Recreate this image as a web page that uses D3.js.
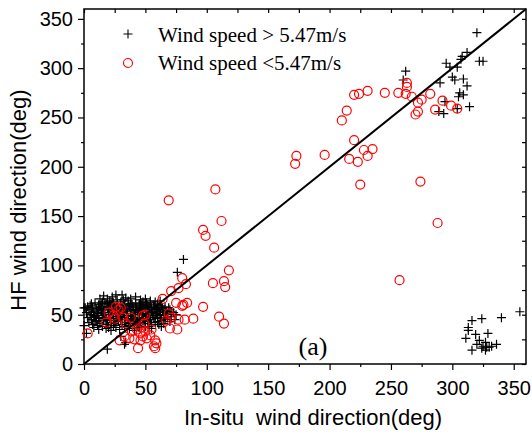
<!DOCTYPE html>
<html>
<head>
<meta charset="utf-8">
<script src="https://cdn.jsdelivr.net/npm/d3@7"></script>
<style>
  body { margin: 0; background: #fff; }
  svg { display: block; }
</style>
</head>
<body>
<div id="chart-area"></div>
<script>
/* Data: [in-situ direction, HF direction] in degrees */

// Wind speed > 5.47 m/s (black plus)
var highWind = [
  // dense cluster near 0-75 deg
  [16,69],[19,66],[23,68],[27,65],[31,70],[34,67],[38,66],[42,68],[46,65],[50,66],[54,64],[58,63],[62,64],[26,70],[13,66],
  [3,58],[6,61],[9,62],[12,60],[15,63],[18,61],[21,64],[24,62],[27,60],[30,63],[33,61],[36,64],[39,60],[42,62],[45,61],
  [48,63],[51,60],[54,62],[57,60],[60,61],[63,59],[66,58],[69,57],
  [1,57],[4,55],[7,57],[10,56],[13,58],[16,55],[19,57],[22,56],[25,58],[28,55],[31,57],[34,56],[37,58],[40,55],[43,57],
  [46,56],[49,58],[52,55],[55,57],[58,56],[61,55],[64,54],[67,53],[70,55],[73,52],
  [2,52],[5,50],[8,53],[11,51],[14,54],[17,50],[20,52],[23,51],[26,53],[29,50],[32,52],[35,51],[38,54],[41,50],[44,52],
  [47,51],[50,53],[53,50],[56,52],[59,51],[62,50],[65,49],[68,51],[71,48],[75,50],
  [3,47],[6,45],[9,48],[12,46],[15,49],[18,45],[21,47],[24,46],[27,48],[30,45],[33,47],[36,46],[39,48],[42,45],[45,47],
  [48,46],[51,48],[54,45],[57,47],[60,46],[63,44],[66,45],[70,43],[74,45],
  [4,42],[7,40],[10,43],[13,41],[16,44],[19,40],[22,42],[25,41],[28,43],[31,40],[34,42],[37,41],[40,43],[43,40],[46,42],
  [49,41],[52,43],[55,40],[58,42],[61,40],[65,41],
  [8,37],[12,35],[15,38],[18,36],[22,34],[26,37],[29,35],[33,38],[37,36],[41,34],[45,37],[50,38],[55,36],[63,38],
  [20,58],[25,54],[30,57],[35,53],[40,58],[45,54],[50,57],[55,53],[15,52],[10,47],[28,50],[38,49],[48,50],[58,49],
  [12,56],[22,60],[32,59],[42,59],[52,59],[62,57],[18,44],[28,46],[38,44],[48,44],
  [5,59],[8,49],[11,54],[14,61],[17,47],[20,55],[23,63],[26,44],[29,52],[32,65],[35,49],[38,61],[41,46],[44,55],
  [47,60],[50,44],[53,57],[56,49],[59,55],[62,47],[65,52],[68,47],[71,53],[6,52],[9,44],[14,57],[17,62],[21,50],
  [24,59],[27,53],[30,48],[33,55],[36,60],[39,51],[42,55],[45,50],[48,55],[51,62],[54,47],[57,58],[60,53],[64,57],
  [67,50],[36,39],[24,39],[44,39],[53,38],[60,43],[11,39],[20,37],
  [30,28],[33,20],[34,22],[19,15],[2,31],[0,57],[0,39],
  [81,106],[76,93],
  // upper right group
  [320,336],[312,316],[308,312],[307,309],[322,307],[325,307],[295,305],[298,301],[304,301],[262,297],[260,288],
  [300,291],[302,288],[309,289],[290,285],[312,282],[306,275],[309,273],[305,271],[294,266],[314,261],[304,259],
  [289,256],[293,254],
  // lower right group
  [355,53],[340,47],[324,46],[316,44],[313,37],[313,34],[319,30],[329,31],[311,26],[322,24],[327,22],[316,14],
  [324,16],[328,17],[330,17],[336,20],[325,18],[327,14],[320,20],[332,18]
];

// Wind speed < 5.47 m/s (red circle)
var lowWind = [
  [3,31],[18,42],[26,58],[30,57],[28,55],[20,52],[24,49],[32,47],[38,47],[48,49],[50,50],[34,41],[25,46],[46,37],[49,41],
  [39,33],[43,35],[46,31],[50,33],[54,29],[37,26],[41,25],[46,24],[51,26],[58,24],[29,24],[33,28],[44,16],[58,16],
  [59,21],[55,35],[48,28],[57,18],
  [69,51],[71,47],[80,59],[84,62],[97,58],[110,48],[114,41],[77,45],[82,45],[89,46],[70,36],[76,35],[67,44],
  [64,66],[71,74],[77,77],[80,87],[83,81],[81,60],[75,62],
  [69,166],[107,177],[112,145],[97,136],[99,130],[106,118],[118,95],[105,82],[114,84],[115,78],
  [172,203],[173,211],[196,212],[216,208],[223,205],[220,227],[228,217],[231,211],[235,218],[225,182],[274,185],
  [210,247],[214,257],[220,273],[224,274],[231,277],[245,275],[256,275],[263,285],[263,281],[262,274],[267,271],
  [272,265],[275,268],[270,253],[272,256],[282,274],[292,267],[299,262],[286,258],[304,259],[288,143],[257,85]
];

var xTicks = [0, 50, 100, 150, 200, 250, 300, 350];
var yTicks = [0, 50, 100, 150, 200, 250, 300, 350];
var minorTicks = [25, 75, 125, 175, 225, 275, 325];

var legendLabels = ["Wind speed > 5.47m/s", "Wind speed <5.47m/s"];

/* Layout */
var margin = { top: 9, right: 6, bottom: 68, left: 84 };
var width = 532 - margin.left - margin.right;
var height = 432 - margin.top - margin.bottom;

var svg = d3.select("#chart-area").append("svg")
  .attr("width", 532)
  .attr("height", 432);

var g = svg.append("g")
  .attr("transform", "translate(" + margin.left + "," + margin.top + ")");

/* Scales */
var x = d3.scaleLinear().domain([0, 360]).range([0, width]);
var y = d3.scaleLinear().domain([0, 360]).range([height, 0]);

/* Axes */
var sansFont = "'Liberation Sans', Arial, sans-serif";
var serifFont = "'Liberation Serif', 'Times New Roman', serif";

function styleAxis(sel) {
  sel.select(".domain").remove();
  sel.selectAll(".tick line").attr("stroke", "#000").attr("stroke-width", 1.2);
  sel.selectAll("text").attr("font-family", sansFont).attr("font-size", "20px").attr("fill", "#000");
}

g.append("g")
  .attr("transform", "translate(0," + height + ")")
  .call(d3.axisBottom(x).tickValues(xTicks).tickSize(6).tickPadding(11))
  .call(styleAxis);
g.append("g")
  .attr("transform", "translate(0," + height + ")")
  .call(d3.axisBottom(x).tickValues(minorTicks).tickSize(3).tickFormat(""))
  .call(styleAxis);

g.append("g")
  .call(d3.axisLeft(y).tickValues(yTicks).tickSize(6).tickPadding(5))
  .call(styleAxis);
g.append("g")
  .call(d3.axisLeft(y).tickValues(minorTicks).tickSize(3).tickFormat(""))
  .call(styleAxis);

// inward ticks on top and right
g.append("g")
  .call(d3.axisBottom(x).tickValues(xTicks.concat(minorTicks)).tickSize(4).tickFormat(""))
  .call(styleAxis);
g.append("g")
  .attr("transform", "translate(" + width + ",0)")
  .call(d3.axisLeft(y).tickValues(yTicks.concat(minorTicks)).tickSize(4).tickFormat(""))
  .call(styleAxis);

// frame
g.append("rect")
  .attr("width", width)
  .attr("height", height)
  .attr("fill", "none")
  .attr("stroke", "#000")
  .attr("stroke-width", 1.5);

/* Axis titles */
g.append("text")
  .attr("x", width / 2 + 8)
  .attr("y", height + 61)
  .attr("text-anchor", "middle")
  .attr("font-family", sansFont)
  .attr("font-size", "22px")
  .style("white-space", "pre")
  .text("In-situ  wind direction(deg)");

svg.append("text")
  .attr("transform", "translate(26,200) rotate(-90)")
  .attr("text-anchor", "middle")
  .attr("font-family", sansFont)
  .attr("font-size", "22px")
  .text("HF wind direction(deg)");

/* Marks */
var plusPath = "M-4.5,0H4.5M0,-4.5V4.5";

g.append("g").selectAll("path")
  .data(highWind)
  .enter().append("path")
    .attr("d", plusPath)
    .attr("transform", function(d) { return "translate(" + x(d[0]) + "," + y(d[1]) + ")"; })
    .attr("stroke", "#000")
    .attr("stroke-width", 1.2)
    .attr("fill", "none");

g.append("g").selectAll("circle")
  .data(lowWind)
  .enter().append("circle")
    .attr("cx", function(d) { return x(d[0]); })
    .attr("cy", function(d) { return y(d[1]); })
    .attr("r", 4.5)
    .attr("fill", "none")
    .attr("stroke", "#ff0000")
    .attr("stroke-width", 1.2);

// 1:1 line
g.append("line")
  .attr("x1", x(0)).attr("y1", y(0))
  .attr("x2", x(360)).attr("y2", y(360))
  .attr("stroke", "#000")
  .attr("stroke-width", 2);

/* Legend */
var legend = g.append("g").attr("transform", "translate(44,0)");
legend.append("path")
  .attr("d", plusPath)
  .attr("transform", "translate(0,25)")
  .attr("stroke", "#000")
  .attr("stroke-width", 1.1);
legend.append("circle")
  .attr("cx", 0).attr("cy", 54)
  .attr("r", 4.5)
  .attr("fill", "none")
  .attr("stroke", "#ff0000")
  .attr("stroke-width", 1.1);
legend.selectAll("text.lbl")
  .data(legendLabels)
  .enter().append("text")
    .attr("class", "lbl")
    .attr("x", 30)
    .attr("y", function(d, i) { return 33 + i * 28; })
    .attr("font-family", serifFont)
    .attr("font-size", "21px")
    .text(function(d) { return d; });

/* Panel label */
g.append("text")
  .attr("x", 229)
  .attr("y", 346)
  .attr("text-anchor", "middle")
  .attr("font-family", serifFont)
  .attr("font-size", "26px")
  .text("(a)");
</script>
</body>
</html>
